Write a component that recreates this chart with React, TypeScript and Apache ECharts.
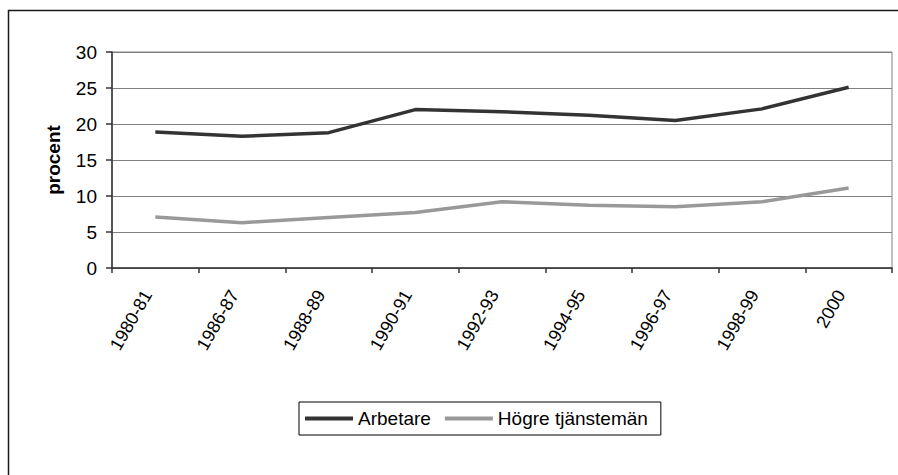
import React, { useEffect, useRef } from "react";
import * as echarts from "echarts";

const categories = ["1980-81", "1986-87", "1988-89", "1990-91", "1992-93", "1994-95", "1996-97", "1998-99", "2000"];
const arbetare = [18.9, 18.3, 18.8, 22.0, 21.7, 21.2, 20.5, 22.1, 25.1];
const hogre = [7.1, 6.3, 7.0, 7.7, 9.2, 8.7, 8.5, 9.2, 11.1];
const seriesNames = ["Arbetare", "Högre tjänstemän"];
const yAxisTitle = "procent";

export default function App() {
  const ref = useRef<HTMLDivElement>(null);
  useEffect(() => {
    if (!ref.current) return;
    const chart = echarts.init(ref.current, null, { renderer: "svg" });
    const font = "Arial, 'Liberation Sans', sans-serif";
    chart.setOption({
      animation: false,
      backgroundColor: "#ffffff",
      textStyle: { fontFamily: font },
      grid: {
        left: 112,
        right: 6,
        top: 52,
        bottom: 207,
        show: true,
        borderColor: "#808080",
        borderWidth: 1,
        containLabel: false,
      },
      graphic: [
        {
          type: "rect",
          shape: { x: 8.5, y: 10.5, width: 1000, height: 1000 },
          style: { fill: "none", stroke: "#1a1a1a", lineWidth: 1.5 },
          silent: true,
        },
        {
          type: "text",
          x: 53,
          y: 160,
          rotation: Math.PI / 2,
          style: {
            text: yAxisTitle,
            fontFamily: font,
            fontSize: 19,
            fontWeight: "bold",
            fill: "#000",
            align: "center",
            verticalAlign: "middle",
          },
        },
      ],
      legend: {
        data: seriesNames,
        left: 299,
        top: 402,
        orient: "horizontal",
        itemWidth: 48,
        itemHeight: 4,
        itemGap: 14,
        padding: [7, 13, 7, 6],
        borderColor: "#000",
        borderWidth: 1,
        borderRadius: 0,
        icon: "rect",
        textStyle: { fontFamily: font, fontSize: 19, color: "#000" },
      },
      xAxis: {
        type: "category",
        data: categories,
        boundaryGap: true,
        axisLine: { show: true, lineStyle: { color: "#333333", width: 1.5 } },
        axisTick: { show: true, inside: false, length: 5, alignWithLabel: false, lineStyle: { color: "#333333", width: 1.5 } },
        axisLabel: {
          rotate: 60,
          margin: 28,
          verticalAlign: "bottom",
          fontFamily: font,
          fontSize: 18,
          color: "#000",
          interval: 0,
        },
        splitLine: { show: false },
      },
      yAxis: {
        type: "value",
        min: 0,
        max: 30,
        interval: 5,
        axisLine: { show: true, lineStyle: { color: "#333333", width: 1.5 } },
        axisTick: { show: true, length: 6, lineStyle: { color: "#333333", width: 1.5 } },
        axisLabel: { margin: 15, fontFamily: font, fontSize: 19, color: "#000" },
        splitLine: { show: true, lineStyle: { color: "#808080", width: 1 } },
      },
      series: [
        {
          name: seriesNames[0],
          type: "line",
          data: arbetare,
          symbol: "none",
          lineStyle: { color: "#333333", width: 3.5 },
          itemStyle: { color: "#333333" },
        },
        {
          name: seriesNames[1],
          type: "line",
          data: hogre,
          symbol: "none",
          lineStyle: { color: "#999999", width: 3.5 },
          itemStyle: { color: "#999999" },
        },
      ],
    });
    return () => chart.dispose();
  }, []);
  return (
    <div
      ref={ref}
      style={{ position: "fixed", left: 0, top: 0, width: 898, height: 475 }}
    />
  );
}
